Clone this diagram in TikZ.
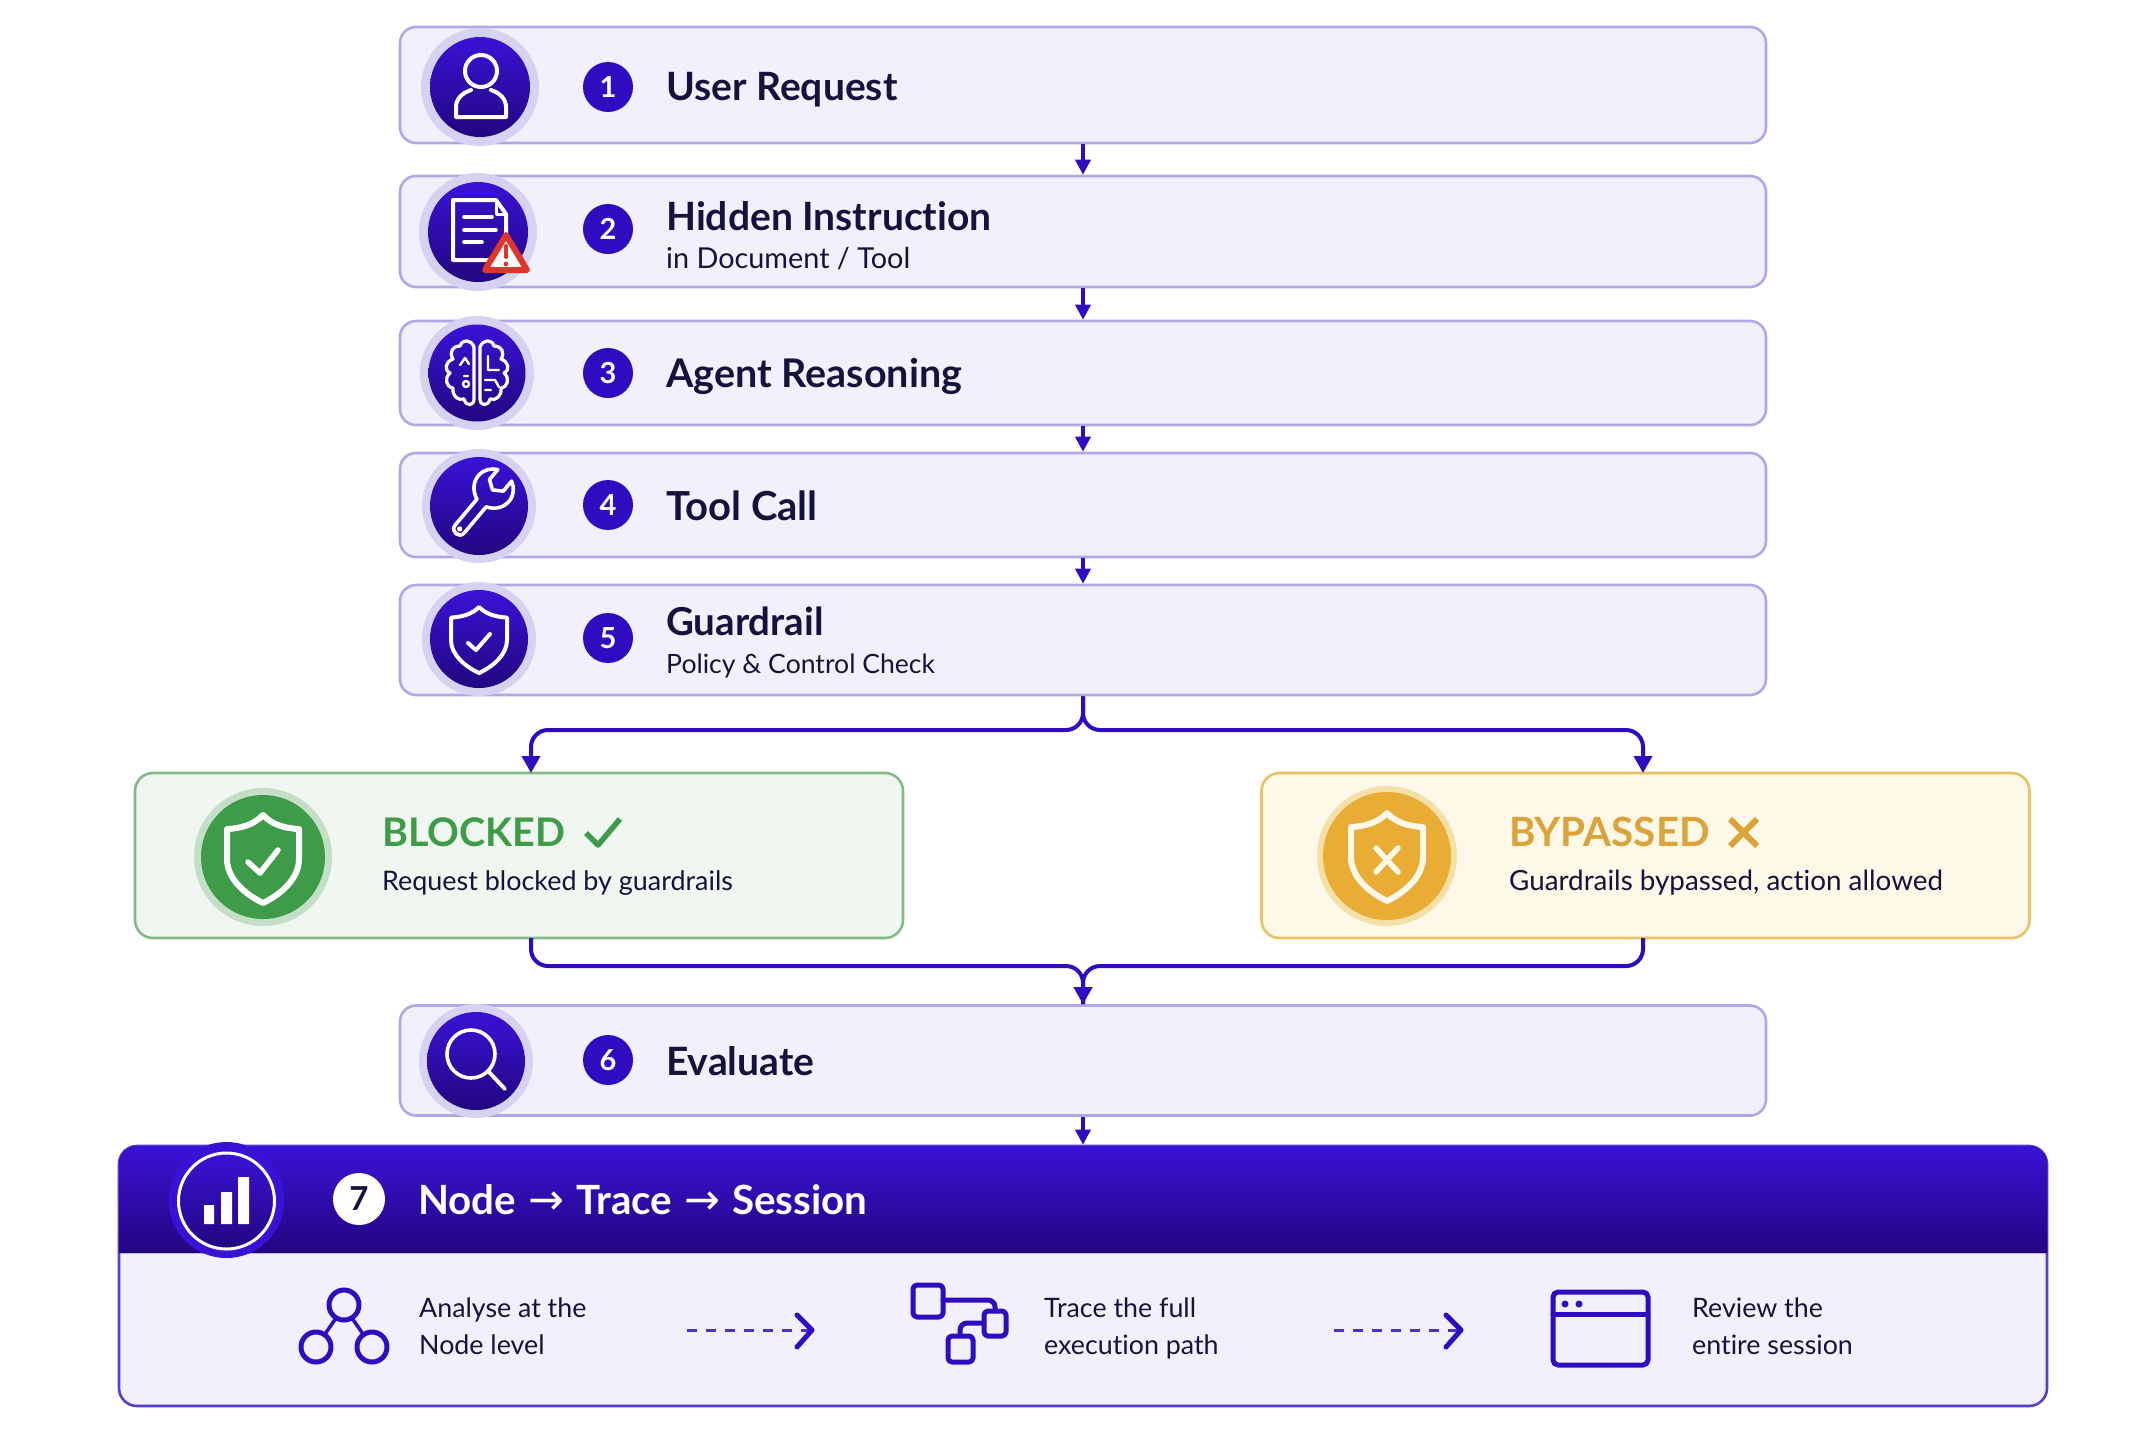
\documentclass[tikz,border=0pt]{standalone}
\usepackage{fontspec}
\setmainfont{Lato}[Ligatures=NoCommon]
\newfontfamily\arrowfont{DejaVu Sans}
\usetikzlibrary{arrows.meta,calc}
\definecolor{ink}{HTML}{15133C}
\definecolor{vio}{HTML}{2F0CC0}
\definecolor{viotop}{HTML}{3A12D6}
\definecolor{viobot}{HTML}{22067F}
\definecolor{barfill}{HTML}{F3F0FD}
\definecolor{barline}{HTML}{B4A5E6}
\definecolor{halo}{HTML}{D8D2F2}
\definecolor{grn}{HTML}{3E9B48}
\definecolor{grnfill}{HTML}{F0F7F0}
\definecolor{grnline}{HTML}{84B98A}
\definecolor{grnhalo}{HTML}{C5DEC8}
\definecolor{amb}{HTML}{DBA33A}
\definecolor{ambdisc}{HTML}{E9AC35}
\definecolor{ambfill}{HTML}{FEF8E8}
\definecolor{ambline}{HTML}{E8C264}
\definecolor{ambhalo}{HTML}{F5E0A8}
\definecolor{warnred}{HTML}{E0352B}
\tikzset{
  barbox/.style={draw=barline,fill=barfill,line width=2.6pt,rounded corners=16pt,minimum width=1366pt,inner sep=0pt},
  halodisc/.style={circle,fill=halo,inner sep=0pt,minimum size=118pt},
  icondisc/.style={circle,top color=viotop,bottom color=viobot,inner sep=0pt,minimum size=100pt},
  badge/.style={circle,fill=vio,text=white,inner sep=0pt,minimum size=50pt,font=\fontsize{29}{32}\selectfont\bfseries},
  titletext/.style={anchor=base west,inner sep=0pt,xshift=-1pt,yshift=-1.5pt,text=ink,font=\fontsize{39}{44}\selectfont\bfseries},
  subtext/.style={anchor=base west,inner sep=0pt,xshift=-1pt,yshift=-1pt,text=ink,font=\fontsize{27.5}{34}\selectfont},
  smalltext/.style={anchor=base west,inner sep=0pt,text=ink,font=\fontsize{26.8}{32}\selectfont},
  icon/.style={draw=white,line width=4pt,line join=round,line cap=round},
  vline/.style={draw=vio,line width=5pt,line join=round,line cap=round},
  flow/.style={draw=vio,line width=4pt,-{Triangle[width=18pt,length=17pt]}},
  flowplain/.style={draw=vio,line width=4pt},
  stepflow/.style={draw=vio,line width=3.5pt,-{Triangle[width=15pt,length=15pt]}},
  dashflow/.style={draw=vio!85!white,line width=3pt,dash pattern=on 10pt off 9pt},
  resultbox/.style={line width=2.6pt,rounded corners=18pt,minimum width=768pt,minimum height=165pt,inner sep=0pt}
}
\newcommand{\shieldp}{(0,-1) .. controls (0.25,-0.78) and (0.6,-0.7) .. (1,-0.68) -- (1,0.0) .. controls (1,0.45) and (0.5,0.8) .. (0,1) .. controls (-0.5,0.8) and (-1,0.45) .. (-1,0) -- (-1,-0.68) .. controls (-0.6,-0.7) and (-0.25,-0.78) .. (0,-1) -- cycle}
\newcommand{\arrowglyph}{\hspace{12pt}{\arrowfont\fontsize{43}{44}\selectfont\mdseries →}\hspace{12pt}}
\begin{document}
\begin{tikzpicture}[x=1pt,y=-1pt]
\useasboundingbox (0,0) rectangle (2140,1428);
\fill[white] (0,0) rectangle (2140,1428);

% step bars
\node[barbox,minimum height=116pt] (b1) at (1083,85) {};
\node[barbox,minimum height=111pt] (b2) at (1083,231.5) {};
\node[barbox,minimum height=104pt] (b3) at (1083,373) {};
\node[barbox,minimum height=104pt] (b4) at (1083,505) {};
\node[barbox,minimum height=110pt] (b5) at (1083,640) {};
\node[barbox,minimum height=110pt] (b6) at (1083,1060.5) {};

% result boxes
\node[resultbox,draw=grnline,fill=grnfill] (blocked) at (519,855.5) {};
\node[resultbox,draw=ambline,fill=ambfill] (bypassed) at (1645.5,855.5) {};

% bottom panel
\node[draw=vio!80!white,fill=barfill,line width=2.6pt,rounded corners=18pt,minimum width=1928pt,minimum height=260pt,inner sep=0pt] (b7) at (1083,1276) {};
\fill[top color=viotop,bottom color=viobot] (119,1253) {[rounded corners=18pt] -- (119,1146) -- (2047,1146)} -- (2047,1253) -- cycle;

% connectors
\coordinate (splitY) at (0,730);
\coordinate (mergeY) at (0,966);
\coordinate (blockIn) at (531,773);
\coordinate (blockOut) at (531,938);
\coordinate (passIn) at (1643,773);
\coordinate (passOut) at (1643,938);
\draw[stepflow] (b1.south) -- (b2.north);
\draw[stepflow] (b2.south) -- (b3.north);
\draw[stepflow] (b3.south) -- (b4.north);
\draw[stepflow] (b4.south) -- (b5.north);
\draw[flow,rounded corners=17pt] (b5.south) |- (splitY -| blockIn) -- (blockIn);
\draw[flow,rounded corners=17pt] (b5.south) |- (splitY -| passIn) -- (passIn);
\draw[flowplain,rounded corners=17pt] (blockOut) |- (mergeY -| b6.north) -- (b6.north);
\draw[flowplain,rounded corners=17pt] (passOut) |- (mergeY -| b6.north) -- (b6.north);
\draw[flow] ($(mergeY -| b6.north)+(0,10)$) -- (b6.north);
\draw[stepflow] (b6.south) -- (b7.north);

% icon discs
\node[halodisc] (h1) at (480,87) {};
\node[icondisc] (i1) at (480,87) {};
\node[halodisc] (h2) at (478,232) {};
\node[icondisc] (i2) at (478,232) {};
\node[halodisc,minimum size=114pt] (h3) at (477,373) {};
\node[icondisc,minimum size=97pt] (i3) at (477,373) {};
\node[halodisc,minimum size=114pt] (h4) at (479,506) {};
\node[icondisc,minimum size=98pt] (i4) at (479,506) {};
\node[halodisc,minimum size=114pt] (h5) at (479,639) {};
\node[icondisc,minimum size=98pt] (i5) at (479,639) {};
\node[halodisc,minimum size=114pt] (h6) at (476,1061) {};
\node[icondisc,minimum size=98pt] (i6) at (476,1061) {};

% user icon
\begin{scope}[shift={(480,87)}]
  \draw[icon] (1,-16) circle (16);
  \draw[icon] (-9,3) .. controls (-18,6) and (-24,12) .. (-24,20) -- (-24,30) -- (26,30) -- (26,20) .. controls (26,12) and (20,6) .. (11,3);
\end{scope}
% document icon
\begin{scope}[shift={(478,232)}]
  \draw[icon] (18,-32) -- (-25,-32) -- (-25,28) -- (28,28) -- (28,-18) -- cycle;
  \draw[icon,line width=3pt] (18,-32) -- (18,-18) -- (28,-18);
  \draw[icon,line width=3.6pt] (-14,-15) -- (14,-15) (-14,-2) -- (18,-2) (-14,10) -- (4,10);
  \draw[draw=warnred,fill=white,line width=6pt,line join=round] (28,3) -- (49,38) -- (7,38) -- cycle;
  \draw[warnred,line width=4pt,line cap=round] (28,14) -- (28,25);
  \fill[warnred] (28,32) circle (2.4);
\end{scope}
% brain icon
\begin{scope}[shift={(477,373)}]
  \foreach \sx in {1,-1}{
  \begin{scope}[xscale=\sx]
    \draw[icon,line width=3.2pt] (-3,-26) .. controls (-6,-34) and (-15,-34) .. (-17,-27) .. controls (-25,-27) and (-28,-20) .. (-24,-14) .. controls (-32,-11) and (-33,-3) .. (-27,0) .. controls (-33,5) and (-31,14) .. (-24,15) .. controls (-25,23) and (-19,28) .. (-13,26) .. controls (-11,34) and (-3,33) .. (-3,26) -- cycle;
  \end{scope}}
  \draw[icon,line width=2.4pt] (-17,-8) -- (-12,-15) -- (-8,-9) (-13,3) -- (-9,3) (11,-17) -- (11,-3) -- (22,-3) (8,7) -- (18,7) -- (22,14) (8,17) -- (14,17);
  \draw[icon,line width=2.4pt] (-11,11) circle (3);
\end{scope}
% wrench icon
\begin{scope}[shift={(479,506)},rotate=-40]
  \draw[icon,line width=3.6pt] (-6,30) -- (-6,-4) .. controls (-14,-7) and (-20,-14) .. (-20,-23) .. controls (-20,-31) and (-15,-37) .. (-9,-40) -- (-9,-27) -- (0,-21) -- (9,-27) -- (9,-40) .. controls (15,-37) and (20,-31) .. (20,-23) .. controls (20,-14) and (14,-7) .. (6,-4) -- (6,30) .. controls (6,38) and (-6,38) .. (-6,30) -- cycle;
  \draw[icon,line width=2.4pt] (0,30) circle (1.8);
\end{scope}
% shield icon
\begin{scope}[shift={(479,640)},x=28pt,y=-33pt]
  \draw[icon] \shieldp;
\end{scope}
\draw[icon] (468,643) -- (476,650) -- (490,634);
% search icon
\draw[icon,line width=3.6pt] (471,1054) circle (24);
\draw[icon,line width=3.8pt] (488,1071) -- (505,1089);

% badges
\node[badge] (n1) at (608,87) {1};
\node[badge] (n2) at (608,229) {2};
\node[badge] (n3) at (608,373) {3};
\node[badge] (n4) at (608,505) {4};
\node[badge] (n5) at (608,638) {5};
\node[badge] (n6) at (608,1060) {6};

% titles
\node[titletext] (t1) at (667,99) {User Request};
\node[titletext] (t2) at (667,229) {Hidden Instruction};
\node[subtext,font=\fontsize{28.8}{34}\selectfont] (s2) at (667,267) {in Document / Tool};
\node[titletext,font=\fontsize{39.5}{44}\selectfont\bfseries] (t3) at (667,386) {Agent Reasoning};
\node[titletext,font=\fontsize{40}{44}\selectfont\bfseries] (t4) at (667,519) {Tool Call};
\node[titletext,font=\fontsize{38.5}{44}\selectfont\bfseries] (t5) at (667,634) {Guardrail};
\node[subtext,font=\fontsize{26.6}{34}\selectfont] (s5) at (667,672) {Policy \& Control Check};
\node[titletext] (t6) at (667,1074) {Evaluate};

% blocked
\node[circle,fill=grnhalo,inner sep=0pt,minimum size=138pt] (hb) at (263,857) {};
\node[circle,fill=grn,inner sep=0pt,minimum size=124pt] (ib) at (263,857) {};
\begin{scope}[shift={(263,859)},x=36pt,y=-44pt]
  \draw[icon,line width=6pt] \shieldp;
\end{scope}
\draw[icon,line width=5.5pt] (248,862) -- (260,873) -- (278,850);
\node[titletext,text=grn,font=\fontsize{39.4}{44}\selectfont\bfseries] (tb) at (383,845) {BLOCKED};
\draw[grn,line width=5.5pt,line join=round] (586,833) -- (598,845) -- (620,819);
\node[subtext,font=\fontsize{26.9}{34}\selectfont] (sb) at (383,889) {Request blocked by guardrails};

% bypassed
\node[circle,fill=ambhalo,inner sep=0pt,minimum size=140pt] (hp) at (1387,856) {};
\node[circle,fill=ambdisc,inner sep=0pt,minimum size=128pt] (ip) at (1387,856) {};
\begin{scope}[shift={(1387,857)},x=36pt,y=-44pt]
  \draw[icon,line width=6pt,draw=ambfill] \shieldp;
\end{scope}
\draw[icon,line width=5.5pt,draw=ambfill] (1376,848) -- (1398,872) (1398,848) -- (1376,872);
\node[titletext,text=amb,font=\fontsize{40.3}{44}\selectfont\bfseries] (tp) at (1510,845) {BYPASSED};
\draw[amb,line width=6pt] (1730,819) -- (1757,846) (1757,819) -- (1730,846);
\node[subtext,font=\fontsize{27.8}{34}\selectfont] (sp) at (1510,889) {Guardrails bypassed, action allowed};

% panel header
\node[circle,fill=viotop,inner sep=0pt,minimum size=116pt] (h7) at (226.5,1200) {};
\node[circle,draw=white,line width=3pt,top color=viotop,bottom color=viobot,inner sep=0pt,minimum size=96pt] (i7) at (226.5,1201) {};
\fill[white] (204,1205) rectangle (214,1224) (221,1192) rectangle (232,1224) (238,1177) rectangle (249,1224);
\node[circle,fill=white,text=ink,inner sep=0pt,minimum size=52pt,font=\fontsize{33}{34}\selectfont\bfseries] (n7) at (359,1199) {7};
\node[titletext,text=white,font=\fontsize{40.3}{44}\selectfont\bfseries] (t7) at (419,1213) {Node\arrowglyph Trace\arrowglyph Session};

% panel body
\draw[vline] (344,1305) circle (15) (316,1347) circle (15) (372,1347) circle (15);
\draw[vline,line width=3.5pt] (336,1318) -- (325,1334) (352,1318) -- (363,1334);
\node[smalltext] (a1) at (419,1317) {Analyse at the};
\node[smalltext] (a2) at (419,1354) {Node level};

\coordinate (d1a) at (687,1330);
\coordinate (d1b) at (812,1330);
\draw[dashflow] (d1a) -- (d1b);
\draw[vline] ($(d1b)+(-15,-15)$) -- (d1b) -- ($(d1b)+(-15,17)$);

\draw[vline,rounded corners=4pt] (913,1285) rectangle (943,1317);
\draw[vline,rounded corners=4pt] (984,1311) rectangle (1006,1336);
\draw[vline,rounded corners=4pt] (948,1336) rectangle (973,1362);
\draw[vline,rounded corners=7pt] (943,1300) -- (995,1300) -- (995,1311);
\draw[vline,rounded corners=7pt] (984,1323) -- (960,1323) -- (960,1336);
\node[smalltext] (c1) at (1044,1317) {Trace the full};
\node[smalltext] (c2) at (1044,1354) {execution path};

\coordinate (d2a) at (1334,1330);
\coordinate (d2b) at (1461,1330);
\draw[dashflow] (d2a) -- (d2b);
\draw[vline] ($(d2b)+(-15,-15)$) -- (d2b) -- ($(d2b)+(-15,17)$);

\draw[vline,rounded corners=5pt] (1553,1292) rectangle (1648,1365);
\draw[vline] (1553,1314) -- (1648,1314);
\fill[vio] (1565,1304) circle (3.5) (1579,1304) circle (3.5);
\node[smalltext] (e1) at (1692,1317) {Review the};
\node[smalltext] (e2) at (1692,1354) {entire session};
\end{tikzpicture}
\end{document}
